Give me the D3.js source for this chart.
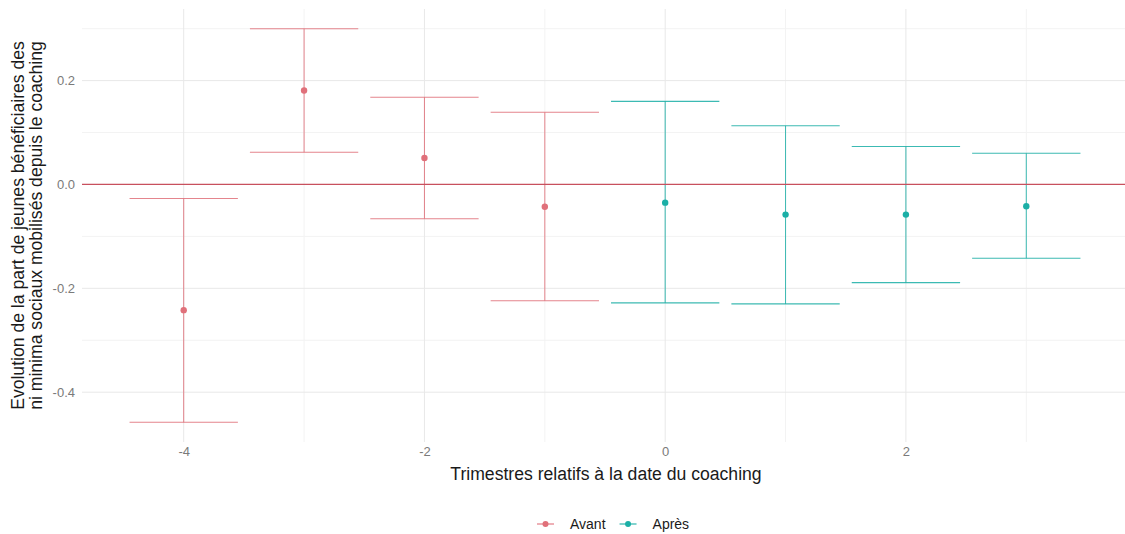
<!DOCTYPE html>
<html><head><meta charset="utf-8">
<script src="https://cdn.jsdelivr.net/npm/d3@7"></script>
<style>body{margin:0;background:#fff}svg{display:block;font-family:"Liberation Sans",Arial,sans-serif}</style>
</head><body><svg id="c" width="1125" height="534"></svg>
<script>
const quarters = [-4,-3,-2,-1,0,1,2,3];
const estimates = [-0.242,0.181,0.051,-0.043,-0.035,-0.058,-0.058,-0.042];
const lower = [-0.458,0.062,-0.066,-0.224,-0.228,-0.230,-0.189,-0.142];
const upper = [-0.027,0.300,0.168,0.139,0.160,0.113,0.073,0.060];
const groups = ["Avant","Avant","Avant","Avant","Après","Après","Après","Après"];
const groupNames = ["Avant","Après"];
const groupColors = ["#E0707A","#1BAFA6"];
const xTicks = [-4,-2,0,2];
const yTicks = [-0.4,-0.2,0,0.2];
const xTitle = "Trimestres relatifs à la date du coaching";
const yTitle = ["Evolution de la part de jeunes bénéficiaires des","ni minima sociaux mobilisés depuis le coaching"];

const svg = d3.select("#c");
const L=82,R=1128,T=9,B=442,W=1125;
const halfW=0.45;
const xmin=d3.min(quarters)-halfW, xmax=d3.max(quarters)+halfW;
const ymin=d3.min(lower), ymax=d3.max(upper);
const xe=(xmax-xmin)*0.05, ye=(ymax-ymin)*0.05;
const x=d3.scaleLinear().domain([xmin-xe,xmax+xe]).range([L,R]);
const y=d3.scaleLinear().domain([ymin-ye,ymax+ye]).range([B,T]);
const col=d3.scaleOrdinal().domain(groupNames).range(groupColors);

const g=svg.append("g");
const xMinor=d3.range(-5,5,1).filter(v=>!xTicks.includes(v)&&x(v)>=L&&x(v)<=W);
const yMinor=d3.range(-0.5,0.4,0.1).map(v=>+v.toFixed(1)).filter(v=>!yTicks.some(t=>Math.abs(t-v)<1e-9)&&y(v)>=T&&y(v)<=B);
g.selectAll(".xm").data(xMinor).join("line").attr("x1",d=>x(d)).attr("x2",d=>x(d)).attr("y1",T).attr("y2",B).attr("stroke","#f3f3f3").attr("stroke-width",1);
g.selectAll(".ym").data(yMinor).join("line").attr("y1",d=>y(d)).attr("y2",d=>y(d)).attr("x1",L).attr("x2",W).attr("stroke","#f3f3f3").attr("stroke-width",1);
g.selectAll(".xM").data(xTicks).join("line").attr("x1",d=>x(d)).attr("x2",d=>x(d)).attr("y1",T).attr("y2",B).attr("stroke","#e8e8e8").attr("stroke-width",1);
g.selectAll(".yM").data(yTicks).join("line").attr("y1",d=>y(d)).attr("y2",d=>y(d)).attr("x1",L).attr("x2",W).attr("stroke","#e8e8e8").attr("stroke-width",1);

const xAxis=svg.append("g").attr("transform",`translate(0,${B})`).call(d3.axisBottom(x).tickValues(xTicks).tickSize(0).tickPadding(5));
xAxis.select(".domain").remove();
xAxis.selectAll("text").attr("fill","#7a7a7a").attr("font-size","13px").attr("font-family","Liberation Sans, Arial, sans-serif").text(d=>String(d));
const yAxis=svg.append("g").attr("transform",`translate(${L},0)`).call(d3.axisLeft(y).tickValues(yTicks).tickSize(0).tickPadding(7));
yAxis.select(".domain").remove();
yAxis.selectAll("text").attr("fill","#7a7a7a").attr("font-size","13px").attr("font-family","Liberation Sans, Arial, sans-serif").text(d=>d3.format(".1f")(d).replace("−","-"));

const data=quarters.map((q,i)=>({q,est:estimates[i],lo:lower[i],hi:upper[i],grp:groups[i]}));
const eb=svg.append("g");
data.forEach(d=>{
  const c=col(d.grp);
  eb.append("line").attr("x1",x(d.q)).attr("x2",x(d.q)).attr("y1",y(d.lo)).attr("y2",y(d.hi)).attr("stroke",c).attr("stroke-width",1).attr("opacity",0.85);
  eb.append("line").attr("x1",x(d.q-halfW)).attr("x2",x(d.q+halfW)).attr("y1",y(d.lo)).attr("y2",y(d.lo)).attr("stroke",c).attr("stroke-width",1.1).attr("opacity",0.85);
  eb.append("line").attr("x1",x(d.q-halfW)).attr("x2",x(d.q+halfW)).attr("y1",y(d.hi)).attr("y2",y(d.hi)).attr("stroke",c).attr("stroke-width",1.1).attr("opacity",0.85);
});
svg.append("line").attr("x1",L).attr("x2",W).attr("y1",y(0)).attr("y2",y(0)).attr("stroke","#C8505E").attr("stroke-width",1.2);
svg.selectAll(".pt").data(data).join("circle").attr("cx",d=>x(d.q)).attr("cy",d=>y(d.est)).attr("r",3.2).attr("fill",d=>col(d.grp));

svg.append("text").attr("x",606).attr("y",480).attr("text-anchor","middle").attr("font-size","17.6px").attr("fill","#1a1a1a").text(xTitle);
const yt=svg.append("text").attr("transform",`translate(24,${(T+B)/2}) rotate(-90)`).attr("text-anchor","middle").attr("font-size","17.6px").attr("fill","#1a1a1a");
yTitle.forEach((t,i)=>yt.append("tspan").attr("x",0).attr("dy",i===0?0:17.5).text(t));

const leg=svg.append("g").attr("transform","translate(537,524)");
let lx=0;
groupNames.forEach((n,i)=>{
  const gg=leg.append("g").attr("transform",`translate(${lx},0)`);
  gg.append("line").attr("x1",0).attr("x2",17).attr("y1",0).attr("y2",0).attr("stroke",groupColors[i]).attr("stroke-width",1.1);
  gg.append("circle").attr("cx",8.5).attr("cy",0).attr("r",3).attr("fill",groupColors[i]);
  const t=gg.append("text").attr("x",33).attr("y",5).attr("font-size","14px").attr("fill","#1a1a1a").text(n);
  lx+=33+t.node().getComputedTextLength()+14;
});
</script></body></html>
